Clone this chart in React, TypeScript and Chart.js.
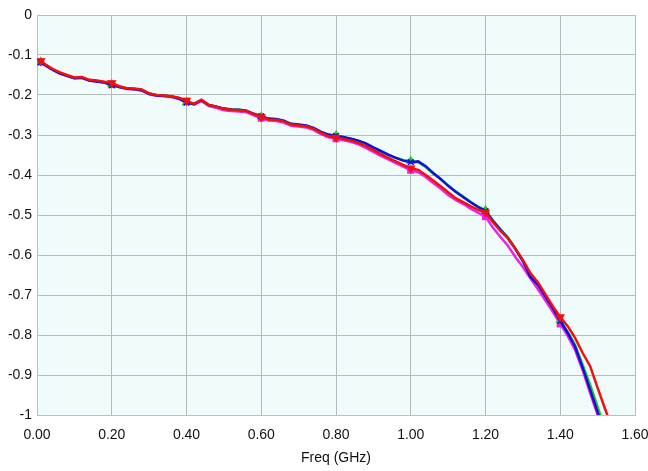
import React, { useEffect, useRef } from "react";
import { Chart, registerables } from "chart.js";

Chart.register(...registerables);

const FREQ = [
  0.01, 0.02, 0.04, 0.06, 0.08, 0.10, 0.12, 0.14, 0.16, 0.18,
  0.20, 0.22, 0.24, 0.26, 0.28, 0.30, 0.32, 0.34, 0.36, 0.38,
  0.40, 0.42, 0.44, 0.46, 0.48, 0.50, 0.52, 0.54, 0.56, 0.58,
  0.60, 0.62, 0.64, 0.66, 0.68, 0.70, 0.72, 0.74, 0.76, 0.78,
  0.80, 0.82, 0.84, 0.86, 0.88, 0.90, 0.92, 0.94, 0.96, 0.98,
  1.00, 1.02, 1.04, 1.06, 1.08, 1.10, 1.12, 1.14, 1.16, 1.18,
  1.20, 1.22, 1.24, 1.26, 1.28, 1.30, 1.32, 1.34, 1.36, 1.38,
  1.40, 1.42, 1.44, 1.46, 1.48, 1.50, 1.52, 1.54,
];

const RED = [
  -0.115, -0.122, -0.134, -0.143, -0.150, -0.156, -0.155, -0.162, -0.164, -0.167,
  -0.170, -0.178, -0.183, -0.184, -0.186, -0.196, -0.200, -0.201, -0.203, -0.207,
  -0.214, -0.222, -0.212, -0.225, -0.229, -0.235, -0.237, -0.238, -0.240, -0.248,
  -0.255, -0.261, -0.262, -0.266, -0.274, -0.276, -0.278, -0.284, -0.295, -0.303,
  -0.306, -0.310, -0.314, -0.320, -0.328, -0.338, -0.348, -0.357, -0.366, -0.375,
  -0.383, -0.387, -0.400, -0.414, -0.428, -0.443, -0.458, -0.468, -0.478, -0.487,
  -0.493, -0.518, -0.540, -0.558, -0.584, -0.612, -0.645, -0.668, -0.698, -0.728,
  -0.755, -0.778, -0.808, -0.845, -0.878, -0.932, -0.985, -1.035,
];

const BLUE = [
  -0.118, -0.124, -0.136, -0.146, -0.152, -0.158, -0.157, -0.164, -0.166, -0.169,
  -0.176, -0.180, -0.184, -0.185, -0.188, -0.197, -0.201, -0.202, -0.204, -0.209,
  -0.219, -0.223, -0.213, -0.225, -0.229, -0.234, -0.236, -0.237, -0.239, -0.247,
  -0.253, -0.259, -0.260, -0.264, -0.272, -0.274, -0.276, -0.282, -0.292, -0.299,
  -0.302, -0.305, -0.309, -0.314, -0.321, -0.331, -0.340, -0.349, -0.357, -0.364,
  -0.368, -0.366, -0.378, -0.395, -0.410, -0.427, -0.442, -0.455, -0.468, -0.480,
  -0.490, -0.515, -0.537, -0.558, -0.585, -0.615, -0.655, -0.674, -0.703, -0.733,
  -0.765, -0.795, -0.830, -0.882, -0.937, -0.993, -1.050, -1.100,
];

const GREEN = [
  -0.117, -0.123, -0.135, -0.145, -0.151, -0.157, -0.156, -0.163, -0.165, -0.168,
  -0.173, -0.179, -0.183, -0.185, -0.187, -0.196, -0.200, -0.202, -0.204, -0.208,
  -0.219, -0.222, -0.213, -0.225, -0.229, -0.234, -0.236, -0.237, -0.239, -0.247,
  -0.254, -0.260, -0.261, -0.265, -0.273, -0.275, -0.277, -0.283, -0.293, -0.300,
  -0.301, -0.306, -0.310, -0.315, -0.322, -0.332, -0.341, -0.350, -0.357, -0.363,
  -0.365, -0.368, -0.380, -0.396, -0.410, -0.426, -0.441, -0.454, -0.467, -0.479,
  -0.488, -0.514, -0.536, -0.556, -0.584, -0.614, -0.652, -0.672, -0.702, -0.732,
  -0.763, -0.792, -0.826, -0.875, -0.925, -0.980, -1.035, -1.090,
];

const MAGENTA = [
  -0.117, -0.124, -0.136, -0.145, -0.152, -0.158, -0.157, -0.164, -0.166, -0.169,
  -0.173, -0.180, -0.185, -0.186, -0.189, -0.198, -0.202, -0.203, -0.205, -0.210,
  -0.216, -0.224, -0.215, -0.228, -0.232, -0.238, -0.240, -0.241, -0.243, -0.251,
  -0.258, -0.264, -0.265, -0.269, -0.277, -0.279, -0.281, -0.287, -0.298, -0.306,
  -0.309, -0.313, -0.317, -0.323, -0.332, -0.342, -0.352, -0.361, -0.370, -0.379,
  -0.388, -0.393, -0.405, -0.420, -0.434, -0.450, -0.462, -0.472, -0.484, -0.494,
  -0.504, -0.532, -0.555, -0.577, -0.605, -0.630, -0.658, -0.685, -0.713, -0.742,
  -0.772, -0.802, -0.838, -0.888, -0.945, -1.000, -1.050, -1.100,
];

const MARKER_FREQS = [0.01, 0.2, 0.4, 0.6, 0.8, 1.0, 1.2, 1.4];

const X_TICKS = ["0.00", "0.20", "0.40", "0.60", "0.80", "1.00", "1.20", "1.40", "1.60"];
const Y_TICKS = ["0", "-0.1", "-0.2", "-0.3", "-0.4", "-0.5", "-0.6", "-0.7", "-0.8", "-0.9", "-1"];

const FONT_FAMILY = "'Liberation Sans', Arial, sans-serif";

function toPoints(vals: number[]) {
  return FREQ.map((f, i) => ({ x: f, y: vals[i] }));
}

const bgPlugin = {
  id: "plotBg",
  beforeDraw(chart: any) {
    const { ctx, chartArea } = chart;
    if (!chartArea) return;
    ctx.save();
    ctx.fillStyle = "#f0fcfc";
    ctx.fillRect(chartArea.left, chartArea.top, chartArea.right - chartArea.left, chartArea.bottom - chartArea.top);
    ctx.restore();
  },
};

export default function App() {
  const ref = useRef<HTMLCanvasElement | null>(null);

  useEffect(() => {
    document.body.style.margin = "0";
    const canvas = ref.current;
    if (!canvas) return;

    const markerRadius = (r: number) => (c: any) => {
      const raw = c.raw;
      if (!raw) return 0;
      return MARKER_FREQS.some((m) => Math.abs(m - raw.x) < 1e-6) ? r : 0;
    };

    const mk = (label: string, vals: number[], color: string, style: string, rot: number) => ({
      label,
      data: toPoints(vals),
      borderColor: color,
      backgroundColor: color,
      borderWidth: 2.5,
      pointStyle: style,
      rotation: rot,
      pointRadius: markerRadius(4),
      pointBorderWidth: 1.5,
      pointHoverRadius: 0,
      tension: 0,
      clip: 0,
    });

    const chart = new Chart(canvas, {
      type: "line",
      data: {
        datasets: [
          mk("S4", RED, "#f01010", "triangle", 180),
          mk("S3", BLUE, "#1010dd", "crossRot", 0),
          mk("S2", GREEN, "#10d010", "triangle", 0),
          mk("S1", MAGENTA, "#f020e8", "rect", 0),
        ] as any,
      },
      options: {
        responsive: false,
        animation: false,
        events: [],
        layout: { padding: { top: 15, right: 13, left: 0, bottom: 0 } },
        plugins: {
          legend: { display: false },
          tooltip: { enabled: false },
        },
        scales: {
          x: {
            type: "linear",
            min: 0,
            max: 1.6,
            afterFit: (s: any) => {
              s.height = 56;
              s.paddingLeft = 0;
              s.paddingRight = 0;
            },
            afterBuildTicks: (s: any) => {
              s.ticks = X_TICKS.map((t) => ({ value: parseFloat(t) }));
            },
            ticks: {
              autoSkip: false,
              maxRotation: 0,
              padding: 12,
              color: "#111",
              font: { family: FONT_FAMILY, size: 14 },
              callback: (_v: any, i: number) => X_TICKS[i],
            },
            grid: { color: "#b4bcbc", drawTicks: false, lineWidth: 1 },
            border: { color: "#b8c0c0", width: 1 },
            title: {
              display: true,
              text: "Freq (GHz)",
              color: "#111",
              font: { family: FONT_FAMILY, size: 14 },
              padding: { top: 0, bottom: 4 },
            },
          },
          y: {
            type: "linear",
            min: -1,
            max: 0,
            afterFit: (s: any) => {
              s.width = 37;
              s.paddingTop = 0;
              s.paddingBottom = 0;
            },
            afterBuildTicks: (s: any) => {
              s.ticks = Y_TICKS.map((t) => ({ value: parseFloat(t) }));
            },
            ticks: {
              autoSkip: false,
              padding: 5,
              color: "#111",
              font: { family: FONT_FAMILY, size: 14 },
              callback: (_v: any, i: number) => Y_TICKS[i],
            },
            grid: { color: "#b4bcbc", drawTicks: false, lineWidth: 1 },
            border: { color: "#b8c0c0", width: 1 },
          },
        },
      } as any,
      plugins: [bgPlugin],
    });

    return () => chart.destroy();
  }, []);

  return (
    <div style={{ width: 648, height: 471 }}>
      <canvas ref={ref} width={648} height={471} style={{ display: "block" }} />
    </div>
  );
}
